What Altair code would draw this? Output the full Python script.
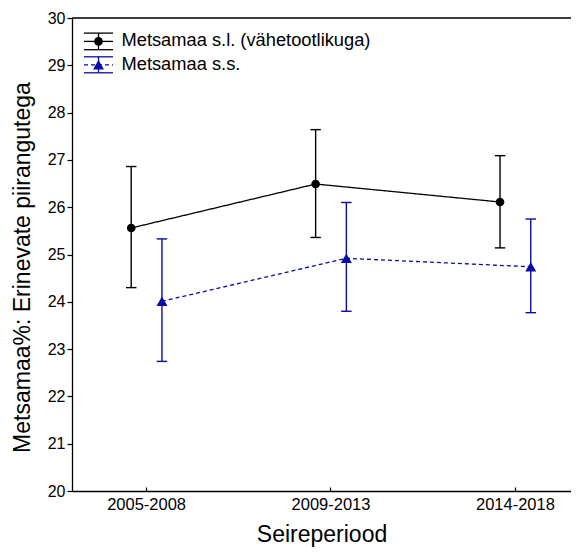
import altair as alt
import pandas as pd

periods = ["2005-2008", "2009-2013", "2014-2018"]
series = ["Metsamaa s.l. (vähetootlikuga)", "Metsamaa s.s."]
colors = ["#000000", "#0a0aa8"]
shapes = ["circle", "triangle-up"]

sl_mean = [25.56, 26.49, 26.11]
sl_upper = [26.86, 27.64, 27.09]
sl_lower = [24.30, 25.36, 25.14]

ss_mean = [24.01, 24.92, 24.74]
ss_upper = [25.33, 26.10, 25.75]
ss_lower = [22.74, 23.80, 23.77]

rows = []
for s, m, u, l in [(series[0], sl_mean, sl_upper, sl_lower),
                   (series[1], ss_mean, ss_upper, ss_lower)]:
    for p, mv, uv, lv in zip(periods, m, u, l):
        rows.append({"period": p, "series": s, "mean": mv, "upper": uv, "lower": lv})
df = pd.DataFrame(rows)

FONT = "Liberation Sans"
W, H = 499, 473

x_enc = alt.X("period:N", sort=periods,
              scale=alt.Scale(paddingInner=0.5, paddingOuter=0.103, align=0.75),
              axis=alt.Axis(title="Seireperiood", labelAngle=0, labelFontSize=16.5,
                            labelFont=FONT, labelColor="black", labelPadding=9.4,
                            tickSize={"expr": "-4"}, tickColor="black", tickWidth=1.2,
                            titleFontSize=23, titleFont=FONT, titleFontWeight="normal",
                            titleColor="black", titlePadding=11,
                            domainColor="black", domainWidth=1.3, grid=False))
xoff = alt.XOffset("series:N", sort=series,
                   scale=alt.Scale(type="point", padding=1.146))
y_scale = alt.Scale(domain=[20, 30], nice=False, zero=False)
color_enc = alt.Color("series:N", sort=series,
                      scale=alt.Scale(domain=series, range=colors), legend=None)

base = alt.Chart(df)

line = base.mark_line(strokeWidth=1.3).encode(
    x=x_enc, xOffset=xoff,
    y=alt.Y("mean:Q", scale=y_scale,
            axis=alt.Axis(title="Metsamaa%: Erinevate piirangutega", values=list(range(20, 31)),
                          labelFontSize=16, labelFont=FONT, labelColor="black", labelPadding=2,
                          tickSize=5, tickColor="black", tickWidth=1.2,
                          titleFontSize=23, titleFont=FONT, titleFontWeight="normal",
                          titleColor="black", titlePadding=13, titleY=249,
                          domainColor="black", domainWidth=1.3, grid=False)),
    color=color_enc,
    strokeDash=alt.StrokeDash("series:N", sort=series,
                              scale=alt.Scale(domain=series, range=[[1, 0], [4, 3]]), legend=None),
)

bars = base.mark_rule(strokeWidth=1.4).encode(
    x=x_enc, xOffset=xoff, y="lower:Q", y2="upper:Q", color=color_enc,
)
cap_hi = base.mark_point(shape="stroke", size=110, strokeWidth=1.4, opacity=1).encode(
    x=x_enc, xOffset=xoff, y="upper:Q", color=color_enc,
)
cap_lo = base.mark_point(shape="stroke", size=110, strokeWidth=1.4, opacity=1).encode(
    x=x_enc, xOffset=xoff, y="lower:Q", color=color_enc,
)
markers = base.mark_point(filled=True, opacity=1, strokeWidth=0).encode(
    x=x_enc, xOffset=xoff, y="mean:Q",
    fill=alt.Fill("series:N", sort=series,
                  scale=alt.Scale(domain=series, range=colors), legend=None),
    shape=alt.Shape("series:N", sort=series,
                    scale=alt.Scale(domain=series, range=shapes), legend=None),
    size=alt.Size("series:N", sort=series,
                  scale=alt.Scale(domain=series, range=[75, 121]), legend=None),
)

frame_top = alt.Chart(alt.Data(values=[{}])).mark_rule(color="black", strokeWidth=1.3).encode(
    x=alt.value(0), x2=alt.value(W), y=alt.value(0)
)

# hand-drawn legend (inside plot, top-left)
leg_x0, leg_x1, leg_xc, leg_tx = 12, 41, 26.5, 49.5
leg_rows = [(23.4, 8.3, None), (46.8, 8.0, [4, 3])]
legend_layers = []
for i, (yc, half, dash) in enumerate(leg_rows):
    ld = alt.Data(values=[{"label": series[i]}])
    c = colors[i]
    lc = alt.Chart(ld)
    for yy in (yc - half, yc + half):
        legend_layers.append(lc.mark_rule(color=c, strokeWidth=1.3).encode(
            x=alt.value(leg_x0), x2=alt.value(leg_x1), y=alt.value(yy)))
    mid = dict(color=c, strokeWidth=1.3)
    if dash:
        mid["strokeDash"] = dash
    legend_layers.append(lc.mark_rule(**mid).encode(
        x=alt.value(leg_x0), x2=alt.value(leg_x1), y=alt.value(yc)))
    legend_layers.append(lc.mark_rule(color=c, strokeWidth=1.3).encode(
        x=alt.value(leg_xc), y=alt.value(yc - half), y2=alt.value(yc + half)))
    legend_layers.append(lc.mark_point(filled=True, color=c, shape=shapes[i], opacity=1,
                                       size=[75, 121][i], strokeWidth=0).encode(
        x=alt.value(leg_xc), y=alt.value(yc)))
    legend_layers.append(lc.mark_text(align="left", baseline="middle", font=FONT,
                                      fontSize=18.3, color="black").encode(
        x=alt.value(leg_tx), y=alt.value(yc), text="label:N"))

chart = alt.layer(line, bars, cap_hi, cap_lo, markers, frame_top, *legend_layers).properties(
    width=W, height=H,
    autosize=alt.AutoSizeParams(type="none"),
    padding={"left": 64, "top": 10, "right": 0, "bottom": 59},
).configure_view(stroke=None).configure(background="white")

chart.save("out.html", embed_options={"renderer": "svg", "actions": False})
